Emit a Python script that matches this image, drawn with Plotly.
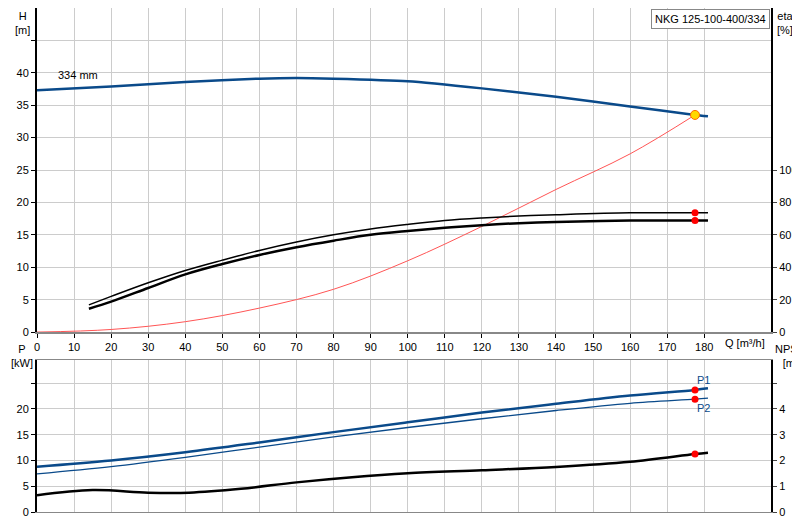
import plotly.graph_objects as go

#### Data ####
q_h = [0, 20, 40, 60, 70, 80, 100, 120, 140, 160, 177.5, 181]
h = [37.3, 37.9, 38.6, 39.1, 39.2, 39.1, 38.7, 37.6, 36.3, 34.8, 33.5, 33.3]

q_eta = [14, 20, 30, 40, 50, 60, 70, 80, 90, 100, 110, 120, 130, 140, 160, 177.5, 181]
eta_upper = [16.8, 22, 30.4, 38, 44.4, 50.4, 55.6, 60, 63.6, 66.4, 68.8, 70.4, 71.6, 72.4, 73.6, 73.6, 73.6]
eta_lower = [14.4, 18.8, 27.2, 35.6, 42, 47.6, 52.4, 56.4, 60, 62.4, 64.4, 66, 67.2, 68, 68.8, 68.8, 68.8]

q_sys = [0, 20, 40, 60, 80, 100, 120, 140, 160, 177.5]
h_sys = [0, 0.4, 1.6, 3.7, 6.6, 11, 16.3, 22, 27.5, 33.5]

q_p = [0, 20, 40, 60, 80, 100, 120, 140, 160, 177.5, 181]
p1 = [8.8, 10.0, 11.6, 13.5, 15.5, 17.4, 19.3, 21.0, 22.6, 23.7, 24.0]
p2 = [7.4, 8.8, 10.6, 12.6, 14.6, 16.4, 18.1, 19.7, 21.1, 21.9, 22.1]

q_npsh = [0, 15, 30, 41, 55, 70, 85, 100, 120, 140, 160, 177.5, 181]
npsh = [0.65, 0.85, 0.75, 0.75, 0.9, 1.15, 1.35, 1.5, 1.62, 1.75, 1.95, 2.25, 2.3]

duty_q = 177.5
q_ticks = list(range(0, 190, 10))

DARKBLUE = "#0a4a8a"
GRID = "#cccccc"

#### Figure ####
fig = go.Figure()
fig.add_trace(go.Scatter(x=q_h, y=h, mode="lines", line=dict(color=DARKBLUE, width=2.5, shape="spline", smoothing=0.6)))
fig.add_trace(go.Scatter(x=q_sys, y=h_sys, mode="lines", line=dict(color="#ff5555", width=1, shape="spline")))
fig.add_trace(go.Scatter(x=[duty_q], y=[h[-2]], mode="markers",
                         marker=dict(color="#ffd700", size=9, line=dict(color="#ff6600", width=1))))
fig.add_trace(go.Scatter(x=q_eta, y=eta_upper, yaxis="y2", mode="lines", line=dict(color="black", width=1.5, shape="spline")))
fig.add_trace(go.Scatter(x=q_eta, y=eta_lower, yaxis="y2", mode="lines", line=dict(color="black", width=2.5, shape="spline")))
fig.add_trace(go.Scatter(x=[duty_q, duty_q], y=[eta_upper[-2], eta_lower[-2]], yaxis="y2", mode="markers",
                         marker=dict(color="red", size=7)))

fig.add_trace(go.Scatter(x=q_p, y=p1, xaxis="x2", yaxis="y3", mode="lines", line=dict(color=DARKBLUE, width=2.5, shape="spline")))
fig.add_trace(go.Scatter(x=q_p, y=p2, xaxis="x2", yaxis="y3", mode="lines", line=dict(color=DARKBLUE, width=1.3, shape="spline")))
fig.add_trace(go.Scatter(x=[duty_q, duty_q], y=[p1[-2], p2[-2]], xaxis="x2", yaxis="y3", mode="markers",
                         marker=dict(color="red", size=7)))
fig.add_trace(go.Scatter(x=q_npsh, y=npsh, xaxis="x2", yaxis="y4", mode="lines", line=dict(color="black", width=2.5, shape="spline")))
fig.add_trace(go.Scatter(x=[duty_q], y=[npsh[-2]], xaxis="x2", yaxis="y4", mode="markers",
                         marker=dict(color="red", size=7)))

axis_common = dict(showgrid=True, gridcolor=GRID, gridwidth=1, zeroline=False, ticks="outside", automargin=False,
                   ticklen=4, tickcolor="black", tickfont=dict(size=11, color="black"))
right_common = dict(showgrid=False, zeroline=False, showline=True, linecolor="black", linewidth=2, automargin=False,
                    ticks="outside", ticklen=4, tickfont=dict(size=11, color="black"))

fig.update_layout(
    width=800, height=520, showlegend=False,
    margin=dict(l=29, r=37, t=0, b=16, autoexpand=False),
    paper_bgcolor="white", plot_bgcolor="white",
    font=dict(family="Liberation Sans, Arial", size=11, color="black"),
    xaxis=dict(domain=[0, 1], range=[0, 198], anchor="y", tickvals=q_ticks,
               showline=True, linecolor="#888888", linewidth=2, **axis_common),
    xaxis2=dict(domain=[0, 1], range=[0, 198], anchor="y3", tickvals=q_ticks, showticklabels=False,
                showline=True, linecolor="#888888", linewidth=1, mirror=True,
                **{k: v for k, v in axis_common.items() if k not in ("ticks",)}),
    yaxis=dict(domain=[0.357, 1], range=[0, 50], tickvals=list(range(0, 50, 5)),
               ticktext=[str(v) for v in range(0, 45, 5)] + [""],
               showline=True, linecolor="black", linewidth=2, **axis_common),
    yaxis2=dict(overlaying="y", side="right", range=[0, 200], tickvals=[0, 20, 40, 60, 80, 100], **right_common),
    yaxis3=dict(domain=[0, 0.3016], range=[0, 29.5], anchor="x2", tickvals=[0, 5, 10, 15, 20, 25],
                ticktext=["0", "5", "10", "15", "20", ""],
                showline=True, linecolor="black", linewidth=2, **axis_common),
    yaxis4=dict(overlaying="y3", side="right", range=[0, 5.9], tickvals=[0, 1, 2, 3, 4, 5],
                ticktext=["0", "1", "2", "3", "4", ""], anchor="x2", **right_common),
)

# axis titles and labels
ann = [
    dict(x=0, y=1.0, xref="paper", yref="paper", text="H<br>[m]", xanchor="center", yanchor="top", xshift=-15),
    dict(x=1, y=1.0, xref="paper", yref="paper", text="eta<br>[%]", xanchor="left", yanchor="top", xshift=4),
    dict(x=0.995, y=0.357, xref="paper", yref="paper", text="Q [m³/h]", xanchor="right", yanchor="top", yshift=-3),
    dict(x=0, y=0.34, xref="paper", yref="paper", text="P<br>[kW]", xanchor="center", yanchor="top", xshift=-15),
    dict(x=1, y=0.34, xref="paper", yref="paper", text="NPSH<br>[m]", xanchor="left", yanchor="top", xshift=2),
    dict(x=5, y=38.5, xref="x", yref="y", text="334 mm", xanchor="left", yanchor="bottom"),
    dict(x=duty_q, y=p1[-2], xref="x2", yref="y3", text="P1", font=dict(color=DARKBLUE),
         xanchor="left", yanchor="bottom", yshift=2),
    dict(x=duty_q, y=p2[-2], xref="x2", yref="y3", text="P2", font=dict(color=DARKBLUE),
         xanchor="left", yanchor="top", yshift=-1),
    dict(x=0.998, y=0.998, xref="paper", yref="paper", text="NKG 125-100-400/334", xanchor="right",
         yanchor="top", bordercolor="#888888", borderwidth=1, bgcolor="white", borderpad=3),
]
for a in ann:
    a["showarrow"] = False
    fig.add_annotation(**a)

fig.write_html("out.html")
